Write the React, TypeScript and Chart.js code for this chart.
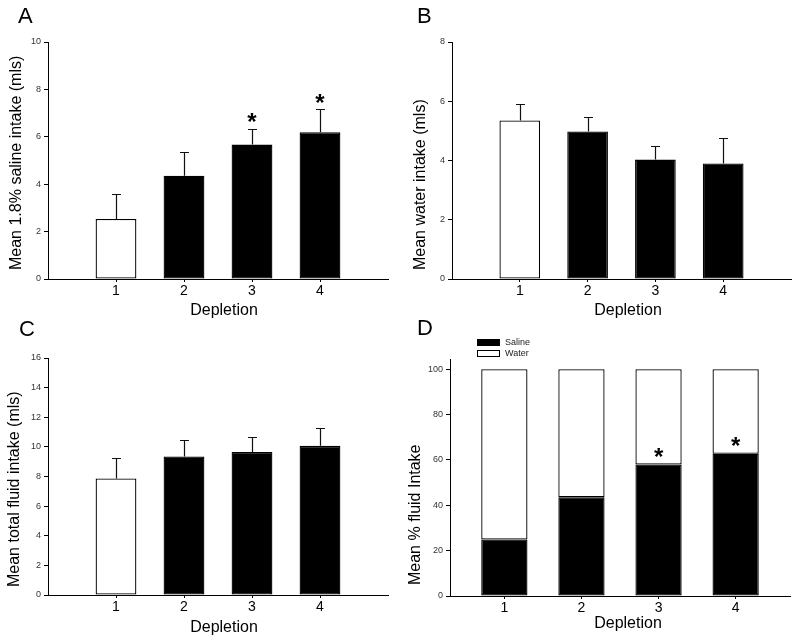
import React, { useEffect, useRef } from 'react';
import { Chart, registerables } from 'chart.js';

Chart.register(...registerables);

const FONT = '"Liberation Sans", Arial, Helvetica, sans-serif';

// ---------------- data ----------------
const depletions = [1, 2, 3, 4];
const depletionTitle = 'Depletion';

const salineMean = [2.53, 4.36, 5.67, 6.19];
const salineSem = [1.06, 0.99, 0.67, 0.97];
const salineSig = [false, false, true, true];
const salineTicks = [0, 2, 4, 6, 8, 10];
const salineTitle = 'Mean 1.8% saline intake (mls)';

const waterMean = [5.35, 4.98, 4.03, 3.9];
const waterSem = [0.56, 0.5, 0.46, 0.87];
const waterTicks = [0, 2, 4, 6, 8];
const waterTitle = 'Mean water intake (mls)';

const totalMean = [7.87, 9.35, 9.66, 10.07];
const totalSem = [1.41, 1.12, 0.99, 1.21];
const totalTicks = [0, 2, 4, 6, 8, 10, 12, 14, 16];
const totalTitle = 'Mean total fluid intake (mls)';

const salinePct = [24.9, 43.5, 58.0, 62.7];
const waterPct = [75.1, 56.5, 42.0, 37.3];
const pctSig = [false, false, true, true];
const pctTicks = [0, 20, 40, 60, 80, 100];
const pctTitle = 'Mean % fluid Intake';
const pctLegend = ['Saline', 'Water'];

// ---------------- styling helpers ----------------
const firstWhite = ['#ffffff', '#000000', '#000000', '#000000'];

type Box = { left: number; top: number; width: number; height: number };
type Area = { left: number; top: number; right: number; bottom: number };

type PanelSpec = {
  key: string;
  letter: string;
  pos: Box;
  area: Area;
  xRange: [number, number];
  yMax: number;
  yTicks: number[];
  yTitle: string;
  yTitleX: number;
  yTitleInset: number;
  xTitleCenter: number;
  xTitleBaseline: number;
  letterX: number;
  letterY: number;
  datasets: any[];
  stacked?: boolean;
  errors?: { mean: number[]; sem: number[] };
  stars?: { sig: boolean[]; values: number[]; gap: number };
  legend?: { labels: string[]; x: number; y: number };
};

const pts = (vals: number[]) => depletions.map((d, i) => ({ x: d, y: vals[i] }));

const barBase = {
  borderColor: '#000000',
  borderWidth: 1.3,
  borderSkipped: false,
  barPercentage: 0.6,
  categoryPercentage: 1,
};

const panels: PanelSpec[] = [
  {
    key: 'A',
    letter: 'A',
    pos: { left: 0, top: 0, width: 400, height: 320 },
    area: { left: 48, top: 42, right: 388, bottom: 279 },
    xRange: [0, 5],
    yMax: 10,
    yTicks: salineTicks,
    yTitle: salineTitle,
    yTitleX: 21,
    yTitleInset: 9,
    xTitleCenter: 224,
    xTitleBaseline: 315,
    letterX: 18,
    letterY: 23,
    datasets: [{ ...barBase, data: pts(salineMean), backgroundColor: firstWhite }],
    errors: { mean: salineMean, sem: salineSem },
    stars: { sig: salineSig, values: salineMean.map((m, i) => m + salineSem[i]), gap: 11 },
  },
  {
    key: 'B',
    letter: 'B',
    pos: { left: 400, top: 0, width: 400, height: 320 },
    area: { left: 52, top: 42, right: 391, bottom: 279 },
    xRange: [0, 5],
    yMax: 8,
    yTicks: waterTicks,
    yTitle: waterTitle,
    yTitleX: 25,
    yTitleInset: 9,
    xTitleCenter: 228,
    xTitleBaseline: 315,
    letterX: 17,
    letterY: 23,
    datasets: [{ ...barBase, data: pts(waterMean), backgroundColor: firstWhite }],
    errors: { mean: waterMean, sem: waterSem },
  },
  {
    key: 'C',
    letter: 'C',
    pos: { left: 0, top: 320, width: 400, height: 323 },
    area: { left: 48, top: 38, right: 388, bottom: 275 },
    xRange: [0, 5],
    yMax: 16,
    yTicks: totalTicks,
    yTitle: totalTitle,
    yTitleX: 19,
    yTitleInset: 8,
    xTitleCenter: 224,
    xTitleBaseline: 312,
    letterX: 19,
    letterY: 16,
    datasets: [{ ...barBase, data: pts(totalMean), backgroundColor: firstWhite }],
    errors: { mean: totalMean, sem: totalSem },
  },
  {
    key: 'D',
    letter: 'D',
    pos: { left: 400, top: 320, width: 400, height: 323 },
    area: { left: 50, top: 39, right: 390, bottom: 276 },
    xRange: [0.295, 4.705],
    yMax: 104.5,
    yTicks: pctTicks,
    yTitle: pctTitle,
    yTitleX: 20,
    yTitleInset: 11,
    xTitleCenter: 228,
    xTitleBaseline: 308,
    letterX: 17,
    letterY: 15,
    stacked: true,
    datasets: [
      { ...barBase, label: pctLegend[0], data: pts(salinePct), backgroundColor: '#000000' },
      { ...barBase, label: pctLegend[1], data: pts(waterPct), backgroundColor: '#ffffff' },
    ],
    stars: { sig: pctSig, values: salinePct, gap: 12 },
    legend: { labels: pctLegend, x: 77, y: 19 },
  },
];

function decorPlugin(s: PanelSpec) {
  return {
    id: 'decor' + s.key,
    afterDatasetsDraw(chart: any) {
      const ctx: CanvasRenderingContext2D = chart.ctx;
      const yS = chart.scales.y;
      const meta = chart.getDatasetMeta(0);
      ctx.save();
      if (s.errors) {
        ctx.strokeStyle = '#111111';
        ctx.lineWidth = 1.2;
        s.errors.mean.forEach((m, i) => {
          const bar: any = meta.data[i];
          const x = Math.round(bar.x) + 0.5;
          const y0 = yS.getPixelForValue(m);
          const y1 = Math.round(yS.getPixelForValue(m + s.errors!.sem[i])) + 0.5;
          ctx.beginPath();
          ctx.moveTo(x, y0);
          ctx.lineTo(x, y1);
          ctx.moveTo(x - 4.5, y1);
          ctx.lineTo(x + 4.5, y1);
          ctx.stroke();
        });
      }
      if (s.stars) {
        ctx.fillStyle = '#000000';
        ctx.font = `bold 24px ${FONT}`;
        ctx.textAlign = 'center';
        ctx.textBaseline = 'alphabetic';
        const m = ctx.measureText('*');
        const mid = (m.actualBoundingBoxAscent - m.actualBoundingBoxDescent) / 2;
        s.stars.sig.forEach((sig, i) => {
          if (!sig) return;
          const bar: any = meta.data[i];
          const cy = yS.getPixelForValue(s.stars!.values[i]) - s.stars!.gap;
          ctx.fillText('*', bar.x, cy + mid);
        });
      }
      ctx.restore();
    },
    afterDraw(chart: any) {
      const ctx: CanvasRenderingContext2D = chart.ctx;
      const area = chart.chartArea;
      ctx.save();
      // panel letter
      ctx.fillStyle = '#000000';
      ctx.font = `22px ${FONT}`;
      ctx.textAlign = 'left';
      ctx.textBaseline = 'alphabetic';
      ctx.fillText(s.letter, s.letterX, s.letterY);
      // x title
      ctx.font = `16px ${FONT}`;
      ctx.textAlign = 'center';
      ctx.fillText(depletionTitle, s.xTitleCenter, s.xTitleBaseline);
      // y title
      ctx.save();
      ctx.translate(s.yTitleX, area.bottom - s.yTitleInset);
      ctx.rotate(-Math.PI / 2);
      ctx.textAlign = 'left';
      ctx.fillText(s.yTitle, 0, 0);
      ctx.restore();
      // legend
      if (s.legend) {
        ctx.font = `9px ${FONT}`;
        ctx.textBaseline = 'middle';
        ctx.textAlign = 'left';
        s.legend.labels.forEach((lab, i) => {
          const ds = chart.data.datasets[i];
          const by = s.legend!.y + i * 11;
          ctx.fillStyle = ds.backgroundColor;
          ctx.fillRect(s.legend!.x, by, 23, 7);
          ctx.strokeStyle = '#000000';
          ctx.lineWidth = 1;
          ctx.strokeRect(s.legend!.x + 0.5, by + 0.5, 22, 6);
          ctx.fillStyle = '#222222';
          ctx.fillText(lab, s.legend!.x + 28, by + 3.8);
        });
      }
      ctx.restore();
    },
  };
}

function buildConfig(s: PanelSpec): any {
  return {
    type: 'bar',
    data: { datasets: s.datasets },
    options: {
      animation: false,
      responsive: false,
      maintainAspectRatio: false,
      events: [],
      layout: {
        padding: { left: 0, top: s.area.top, right: s.pos.width - s.area.right, bottom: 0 },
      },
      plugins: {
        legend: { display: false },
        tooltip: { enabled: false },
        title: { display: false },
      },
      scales: {
        x: {
          type: 'linear',
          min: s.xRange[0],
          max: s.xRange[1],
          stacked: !!s.stacked,
          offset: false,
          afterBuildTicks: (sc: any) => {
            sc.ticks = depletions.map((v) => ({ value: v }));
          },
          afterFit: (sc: any) => {
            sc.height = s.pos.height - s.area.bottom;
          },
          grid: {
            display: true,
            offset: false,
            drawOnChartArea: false,
            drawTicks: true,
            tickLength: 3,
            color: '#000000',
            lineWidth: 1,
          },
          border: { display: true, color: '#000000', width: 1 },
          ticks: {
            color: '#000000',
            padding: 1,
            autoSkip: false,
            maxRotation: 0,
            font: { family: FONT, size: 14 },
          },
          title: { display: false },
        },
        y: {
          type: 'linear',
          min: 0,
          max: s.yMax,
          stacked: !!s.stacked,
          afterBuildTicks: (sc: any) => {
            sc.ticks = s.yTicks.map((v) => ({ value: v }));
          },
          afterFit: (sc: any) => {
            sc.width = s.area.left;
          },
          grid: {
            display: true,
            offset: false,
            drawOnChartArea: false,
            drawTicks: true,
            tickLength: 4,
            color: '#000000',
            lineWidth: 1,
          },
          border: { display: true, color: '#000000', width: 1 },
          ticks: {
            color: '#333333',
            padding: 3,
            font: { family: FONT, size: 9 },
          },
          title: { display: false },
        },
      },
    },
    plugins: [decorPlugin(s)],
  };
}

function Panel({ spec }: { spec: PanelSpec }) {
  const ref = useRef<HTMLCanvasElement>(null);
  useEffect(() => {
    const canvas = ref.current;
    if (!canvas) return;
    const chart = new Chart(canvas, buildConfig(spec));
    return () => chart.destroy();
  }, [spec]);
  return (
    <canvas
      ref={ref}
      width={spec.pos.width}
      height={spec.pos.height}
      style={{
        position: 'absolute',
        left: spec.pos.left,
        top: spec.pos.top,
        width: spec.pos.width,
        height: spec.pos.height,
      }}
    />
  );
}

export default function App() {
  return (
    <div
      style={{
        position: 'absolute',
        left: 0,
        top: 0,
        width: 800,
        height: 643,
        background: '#ffffff',
        overflow: 'hidden',
      }}
    >
      {panels.map((p) => (
        <Panel key={p.key} spec={p} />
      ))}
    </div>
  );
}
